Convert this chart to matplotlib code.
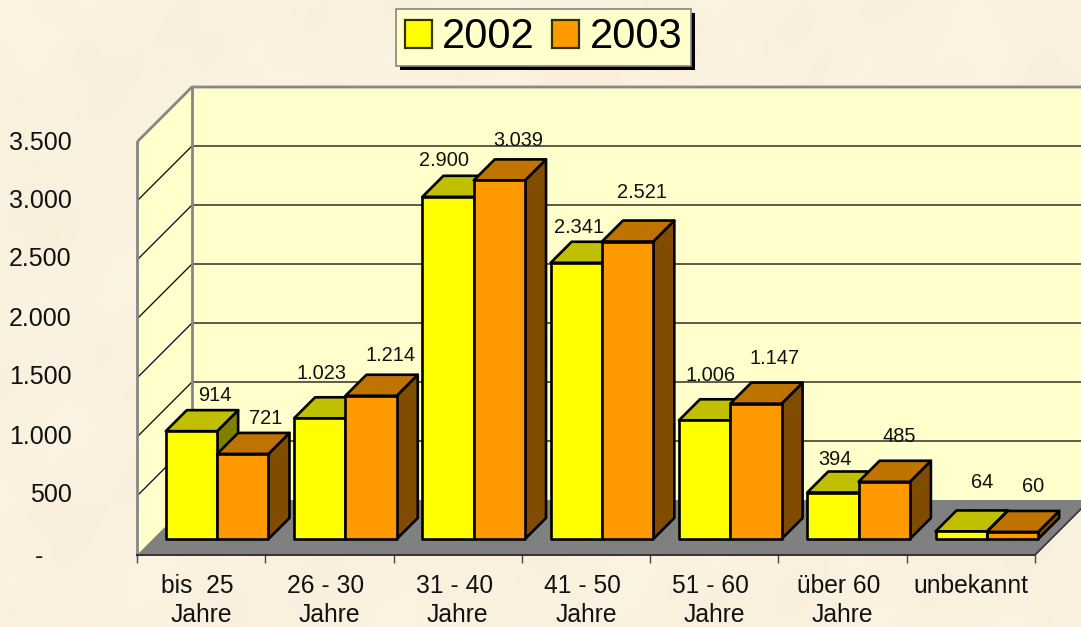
import numpy as np
import matplotlib
matplotlib.use("Agg")
import matplotlib.pyplot as plt
from matplotlib.patches import Patch
from matplotlib.transforms import ScaledTranslation
import matplotlib.patheffects as pe

categories = ["bis  25 \nJahre", "26 - 30 \nJahre", "31 - 40 \nJahre", "41 - 50 \nJahre",
              "51 - 60 \nJahre", "über 60 \nJahre", "unbekannt"]
series_names = ["2002", "2003"]
values_2002 = [914, 1023, 2900, 2341, 1006, 394, 64]
values_2003 = [721, 1214, 3039, 2521, 1147, 485, 60]
labels_2002 = ["914", "1.023", "2.900", "2.341", "1.006", "394", "64"]
labels_2003 = ["721", "1.214", "3.039", "2.521", "1.147", "485", "60"]
y_ticks = [0, 500, 1000, 1500, 2000, 2500, 3000, 3500]
y_tick_labels = ["-    ", "500", "1.000", "1.500", "2.000", "2.500", "3.000", "3.500"]
# small upward nudges of the y tick labels, in pixels
y_label_nudge = [1, 3, 3, 3, 2, 3, 2, 1]

# label offsets from the front-top centre of each bar, in pixels
offsets_2002 = [(23, 36), (2, 45), (-4, 36), (3, 35), (6, 45), (2, 33), (21, 49)]
offsets_2003 = [(23, 35), (19, 40), (19, 40), (14, 49), (19, 45), (15, 45), (21, 45)]

W, H = 1081, 627
LEFT, BASE = 137, 555
CAT_PX = (1035 - 137) / 7
VAL_PX = 0.118
DEPTH = 55
BAR_FRONT = 16
BAR_DEPTH = 21

BG = np.array([251, 241, 223]) / 255
WALL = "#FFFFCC"
FLOOR = "#808080"
GREY = "#868686"
FACES = [("#FFFF00", "#C0C000", "#808000"), ("#FF9900", "#BF7300", "#804D00")]
font = "Liberation Sans"

fig = plt.figure(figsize=(W / 100, H / 100), dpi=100)
fig.patch.set_facecolor(BG)
# soft mottled backdrop
yy, xx = np.mgrid[0:H, 0:W]
tex = (np.sin(xx / 37 + yy / 61) + np.sin(xx / 19 - yy / 43 + 1.3)
       + np.sin(xx / 83 + yy / 23 + 0.4) + 0.6 * np.sin(xx / 11 + yy / 13)) / 3.6
img = np.clip(BG[None, None, :] + tex[..., None] * np.array([0.003, 0.009, 0.016]), 0, 1)
fig.figimage(img, 0, 0, zorder=-10)

ax = fig.add_axes([LEFT / W, (H - BASE) / H, (W - LEFT) / W, BASE / H])
ax.patch.set_visible(False)
ax.set_xlim(0, (W - LEFT) / CAT_PX)
ax.set_ylim(0, BASE / VAL_PX)


def dx(px):
    return px / CAT_PX


def dy(px):
    return px / VAL_PX


n = len(categories)
top = y_ticks[-1]
# walls and floor
ax.fill([0, dx(DEPTH), dx(DEPTH), 0], [0, dy(DEPTH), top + dy(DEPTH), top],
        facecolor=WALL, edgecolor="none", zorder=0.2)
ax.fill([dx(DEPTH), n + dx(DEPTH), n + dx(DEPTH), dx(DEPTH)],
        [dy(DEPTH), dy(DEPTH), top + dy(DEPTH), top + dy(DEPTH)], facecolor=WALL, edgecolor="none", zorder=0.2)
ax.fill([0, n, n + dx(DEPTH), dx(DEPTH)], [0, 0, dy(DEPTH), dy(DEPTH)], facecolor=FLOOR, edgecolor="none", zorder=0.3)
for v in y_ticks[1:-1]:
    ax.plot([0, dx(DEPTH), n + dx(DEPTH)], [v, v + dy(DEPTH), v + dy(DEPTH)], color="black", lw=0.9, zorder=0.4)
ax.plot([dx(DEPTH), dx(DEPTH)], [dy(DEPTH), top + dy(DEPTH)], color=GREY, lw=2.0, zorder=0.5)
ax.plot([0, dx(DEPTH), n + dx(DEPTH)], [top, top + dy(DEPTH), top + dy(DEPTH)], color=GREY, lw=2.0, zorder=0.5)
ax.plot([n, n + dx(DEPTH)], [0, dy(DEPTH)], color="#333333", lw=1.2, zorder=0.5)

# bars
bw = 0.4
for i in range(n):
    for s, vals in enumerate([values_2002, values_2003]):
        front, topc, side = FACES[s]
        x0 = i + 0.1 + s * bw + dx(BAR_FRONT)
        y0 = dy(BAR_FRONT)
        v = vals[i]
        x1 = x0 + bw
        ddx, ddy = dx(BAR_DEPTH), dy(BAR_DEPTH)
        kw = dict(edgecolor="black", linewidth=1.9, joinstyle="round")
        ax.fill([x1, x1 + ddx, x1 + ddx, x1], [y0, y0 + ddy, y0 + v + ddy, y0 + v], facecolor=side, **kw)
        ax.fill([x0, x1, x1 + ddx, x0 + ddx], [y0 + v, y0 + v, y0 + v + ddy, y0 + v + ddy], facecolor=topc, **kw)
        ax.bar(x0, v, bw, bottom=y0, align="edge", color=front, **kw)

# data labels
for s, (vals, labs, offs) in enumerate([(values_2002, labels_2002, offsets_2002),
                                        (values_2003, labels_2003, offsets_2003)]):
    for i, (v, lab, off) in enumerate(zip(vals, labs, offs)):
        xc = i + 0.1 + s * bw + bw / 2 + dx(BAR_FRONT)
        ax.annotate(lab, (xc, dy(BAR_FRONT) + v), xytext=(off[0] * 0.72, off[1] * 0.72),
                    textcoords="offset points", ha="center", va="center",
                    fontsize=14.4, family=font, color="#111111", zorder=6, annotation_clip=False)

# axes
for sp in ("top", "right"):
    ax.spines[sp].set_visible(False)
ax.spines["left"].set_color(GREY)
ax.spines["left"].set_linewidth(2.0)
ax.spines["left"].set_bounds(0, top)
ax.spines["bottom"].set_color("#333333")
ax.spines["bottom"].set_linewidth(1.4)
ax.spines["bottom"].set_bounds(0, n)
ax.set_yticks(y_ticks, y_tick_labels, fontsize=18, family=font, color="#111111")
ax.tick_params(axis="y", length=0, pad=47)
for lab, nudge in zip(ax.get_yticklabels(), y_label_nudge):
    lab.set_transform(lab.get_transform() + ScaledTranslation(0, nudge / 100, fig.dpi_scale_trans))
ax.set_xticks(range(n + 1), [""] * (n + 1))
ax.tick_params(axis="x", which="major", length=6, width=1, color="#444444")
ax.set_xticks(np.arange(n) + 0.5, categories, minor=True, fontsize=17.7, family=font,
              color="#111111", linespacing=1.3)
ax.tick_params(axis="x", which="minor", length=0, pad=13.5)

# legend
handles = [Patch(facecolor=FACES[i][0], edgecolor="#333300", linewidth=1.6, label=series_names[i]) for i in range(2)]
leg = fig.legend(handles=handles, loc="center", bbox_to_anchor=(543.5 / W, 1 - 37.5 / H),
                 ncols=2, prop={"family": font, "size": 30}, frameon=True, fancybox=False,
                 handlelength=0.65, handleheight=0.65, handletextpad=0.25, columnspacing=0.42,
                 borderpad=0.2, borderaxespad=0)
fr = leg.get_frame()
fr.set_facecolor(WALL)
fr.set_edgecolor(GREY)
fr.set_linewidth(1.2)
fr.set_alpha(1)
fr.set_path_effects([pe.SimplePatchShadow(offset=(3, -3), shadow_rgbFace="black", alpha=1), pe.Normal()])

fig.savefig("out.png", dpi=100)
